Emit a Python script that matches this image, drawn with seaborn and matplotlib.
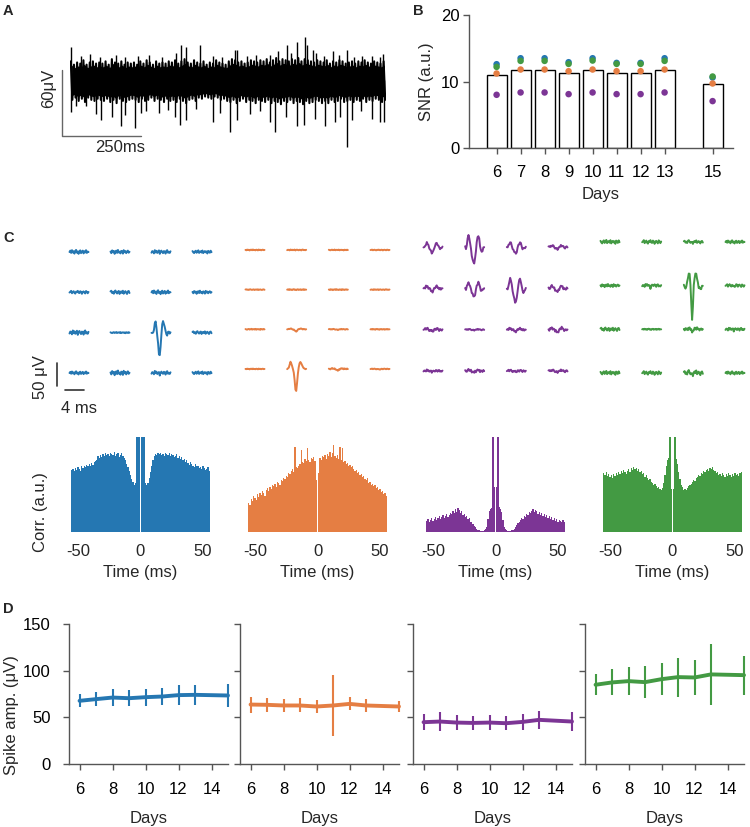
import numpy as np
import pandas as pd
import matplotlib
matplotlib.use("Agg")
import matplotlib.pyplot as plt
import seaborn as sns

# ====================== DATA ======================
unit_names = ["unit1", "unit2", "unit3", "unit4"]
unit_colors = ["#2577b2", "#e57e43", "#7c3595", "#439a43"]

# ---- Panel A: raw trace (µV), envelope every 10 ms over 1 s, plus large spikes
trace_upper = [17, 14, 16, 15, 18, 14, 16, 17, 15, 16,
               15, 17, 14, 19, 16, 15, 17, 14, 16, 15,
               16, 14, 17, 15, 18, 16, 14, 17, 15, 16,
               15, 17, 16, 18, 15, 17, 19, 16, 15, 18,
               16, 15, 17, 14, 16, 15, 18, 16, 15, 14,
               17, 19, 18, 16, 17, 15, 16, 18, 17, 16,
               18, 17, 19, 16, 18, 20, 17, 19, 18, 17,
               19, 18, 20, 17, 19, 18, 17, 16, 18, 17,
               16, 18, 15, 17, 16, 18, 17, 15, 16, 17,
               15, 17, 16, 18, 16, 15, 17, 16, 15, 17]
trace_lower = [-18, -16, -19, -17, -20, -16, -18, -19, -17, -18,
               -19, -17, -20, -18, -21, -17, -19, -20, -18, -17,
               -18, -20, -17, -19, -18, -16, -19, -17, -18, -20,
               -17, -19, -18, -20, -17, -19, -21, -18, -17, -19,
               -16, -17, -15, -16, -17, -15, -16, -18, -17, -19,
               -20, -18, -21, -19, -17, -20, -18, -19, -21, -18,
               -19, -20, -18, -21, -19, -20, -22, -19, -20, -18,
               -21, -19, -20, -22, -19, -21, -20, -18, -19, -21,
               -19, -21, -18, -20, -19, -17, -20, -19, -18, -20,
               -18, -19, -17, -20, -18, -19, -17, -18, -20, -18]
spike_up_t = [4, 35, 62, 95, 147, 175, 215, 249, 290, 337, 352, 366, 410, 452, 480,
              521, 527, 560, 590, 632, 657, 688, 700, 717, 743, 751, 770, 777, 805,
              833, 850, 877, 900, 923, 955, 981, 991]
spike_up_v = [30, 22, 24, 21, 23, 21, 22, 23, 21, 24.5, 32, 30, 32, 22, 21,
              27, 27, 22, 23, 23, 26, 32, 25, 35, 39, 32, 27, 25, 22,
              26, 23, 27, 21, 22, 22, 21, 24]
spike_dn_t = [3, 20, 51, 83, 98, 133, 160, 175, 207, 225, 242, 283, 310, 331, 347, 366,
              400, 452, 474, 505, 530, 569, 600, 632, 648, 685, 717, 740, 775, 807, 838,
              854, 875, 891, 920, 955, 981, 994]
spike_dn_v = [-29, -24, -24, -31, -36, -34, -42, -32, -44, -30, -28, -30, -27, -34, -41, -36,
              -26, -38, -30, -47, -36, -31, -28, -38, -47, -34, -42, -41, -35, -42, -38,
              -34, -61, -36, -28, -35, -38, -38]

# ---- Panel B: SNR per day
snr_days = [6, 7, 8, 9, 10, 11, 12, 13, 15]
snr_bar = [10.95, 11.7, 11.7, 11.35, 11.7, 11.35, 11.35, 11.7, 9.55]
snr_unit1 = [12.6, 13.5, 13.5, 12.9, 13.5, 12.8, 12.8, 13.5, 10.6]
snr_unit2 = [11.2, 11.8, 11.8, 11.55, 11.8, 11.55, 11.55, 11.8, 9.7]
snr_unit3 = [8.0, 8.35, 8.35, 8.1, 8.35, 8.1, 8.1, 8.35, 7.05]
snr_unit4 = [12.2, 13.1, 13.1, 12.65, 13.15, 12.65, 12.65, 13.1, 10.75]

# ---- Panel C: spike templates (µV, 24 samples over 4 ms)
wave_t = [-2.0, -1.83, -1.65, -1.48, -1.3, -1.13, -0.96, -0.78, -0.61, -0.43, -0.26, -0.09,
          0.09, 0.26, 0.43, 0.61, 0.78, 0.96, 1.13, 1.3, 1.48, 1.65, 1.83, 2.0]
template_unit1 = [0, -2, -3, 8, 20, 22, 12, -5, -25, -48, -52, -30, -2, 16, 24, 22, 12, 2, -3, -4, -1, 1, 0, 0]
template_unit2 = [0, 1, 3, 10, 15, 12, 6, 0, -8, -25, -44, -48, -30, -10, 4, 12, 15, 13, 8, 4, 2, 1, 0, 0]
template_unit3 = [0, -4, 6, 18, 24, 20, 8, -6, -18, -28, -34, -35, -26, -8, 10, 20, 24, 18, 4, -8, -11, -8, -3, 0]
template_unit4 = [0, -2, -4, -3, 6, 18, 26, 22, 4, -40, -76, -45, -2, 18, 26, 24, 16, 6, -2, -6, -8, -6, -3, 0]
# background wiggles (relative units)
noise_a = [0, .6, -.4, .8, -.2, .3, -.7, .5, .9, -.3, .2, -.8, .4, .7, -.5, .1, .6, -.6, .3, -.2, .8, -.4, .2, 0]
noise_b = [.2, -.5, .7, -.1, .4, -.8, .3, .6, -.4, .9, -.2, .1, -.6, .5, .3, -.7, .8, -.1, .4, -.5, .2, .6, -.3, .1]
noise_c = [-.3, .4, .1, -.6, .8, -.2, .5, -.4, .2, .7, -.8, .3, .6, -.1, -.5, .4, .2, -.7, .5, .8, -.3, .1, -.4, .3]
noise_d = [.5, -.2, -.6, .3, .7, -.4, .1, .9, -.5, .2, .4, -.3, .8, -.6, .1, .5, -.2, .3, -.8, .6, .2, -.4, .7, -.1]
noise_e = [-.1, .3, .8, -.5, .2, .6, -.3, -.7, .4, .1, .8, -.2, -.4, .6, .3, -.8, .2, .5, -.1, -.6, .7, .3, -.5, .2]
noise_f = [.4, .7, -.3, .2, -.6, .5, .8, -.1, -.5, .3, .6, -.7, .2, .4, -.3, .7, -.6, .1, .5, -.2, -.7, .4, .6, -.3]
# per-channel (4x4 grid) spike weight and noise amplitude (µV)
weight_unit1 = [[0, 0, 0, 0], [0, 0, 0, 0], [0, 0, 1.0, 0], [0, 0, 0.03, 0]]
weight_unit2 = [[0, 0, 0, 0], [0, 0, 0, 0], [0, 0.1, 0.02, 0], [0, 1.0, 0.07, 0.02]]
weight_unit3 = [[0.35, 1.0, 0.4, 0.12], [0.18, 0.5, 0.85, 0.2], [0.1, 0.03, 0.1, 0.15], [0.04, 0.08, 0.05, 0.06]]
weight_unit4 = [[0, 0, 0.03, 0], [0, 0.05, 1.0, 0.04], [0, 0, 0.08, 0.02], [0, 0, 0.06, 0]]
noiseamp_unit1 = [[5, 5, 5, 4], [4, 5, 5, 4], [6, 1.5, 4, 4], [4, 6, 5, 4]]
noiseamp_unit2 = [[1.2, 1.2, 1.0, 1.0], [1.0, 1.2, 1.2, 1.0], [1.2, 1.0, 1.0, 1.0], [1.0, 1.0, 1.5, 1.0]]
noiseamp_unit3 = [[3, 3, 3, 3], [3.5, 3, 3, 3.5], [3.5, 1.5, 3, 3.5], [3, 3.5, 3, 3]]
noiseamp_unit4 = [[5, 5, 4, 4], [4, 4, 4, 4], [5, 1.5, 4, 4], [5, 5, 6, 4]]

# ---- Panel C: autocorrelograms, 1 ms bins, lags -55..55 ms (% of axis height)
acg_lags = list(range(-55, 56))
acg_unit1 = [65, 66, 64, 67, 65, 68, 66, 64, 69, 67,
             70, 68, 71, 69, 72, 70, 73, 71, 74, 75,
             76, 80, 78, 81, 79, 82, 80, 83, 81, 82,
             80, 83, 82, 81, 84, 80, 82, 83, 79, 81,
             83, 80, 78, 76, 72, 68, 64, 60, 56, 53,
             50, 52, 130, 130, 130,
             0,
             130, 130, 130, 52, 50,
             52, 57, 63, 70, 76, 80, 82, 81, 83, 82,
             83, 81, 82, 80, 83, 82, 81, 83, 80, 82,
             81, 79, 80, 82, 78, 80, 77, 79, 76, 77,
             74, 76, 73, 71, 74, 72, 70, 68, 72, 69,
             70, 67, 68, 66, 69, 67, 65, 66, 68, 64]
acg_unit2 = [31, 28, 35, 33, 38, 36, 34, 40, 37, 41,
             39, 43, 41, 38, 44, 46, 43, 47, 45, 49,
             48, 51, 47, 53, 52, 50, 55, 54, 57, 56,
             59, 58, 62, 61, 64, 66, 63, 89, 68, 67,
             70, 72, 86, 74, 73, 77, 75, 88, 76, 74,
             78, 77, 79, 75, 55,
             0,
             62, 78, 76, 80, 79,
             81, 77, 82, 80, 84, 79, 83, 92, 80, 78,
             81, 77, 90, 76, 88, 74, 75, 72, 73, 70,
             71, 68, 69, 66, 64, 65, 62, 63, 60, 61,
             58, 59, 56, 55, 57, 52, 53, 50, 51, 48,
             49, 46, 47, 44, 45, 42, 43, 40, 41, 38]
acg_unit3 = [12, 14, 11, 13, 15, 12, 14, 16, 13, 15,
             17, 14, 16, 18, 15, 17, 19, 16, 18, 20,
             19, 22, 20, 24, 21, 25, 23, 20, 22, 18,
             19, 16, 17, 14, 15, 11, 10, 8, 6, 5,
             3, 2, 2, 1, 1, 1, 2, 3, 5, 14,
             22, 24, 25, 130, 47,
             0,
             47, 130, 26, 24, 21,
             13, 5, 3, 2, 1, 1, 1, 2, 2, 3,
             5, 7, 9, 11, 13, 15, 14, 17, 16, 19,
             18, 21, 20, 22, 24, 21, 23, 22, 19, 21,
             18, 20, 17, 19, 16, 18, 15, 17, 14, 16,
             13, 15, 12, 14, 11, 13, 12, 10, 13, 11]
acg_unit4 = [62, 60, 63, 59, 61, 58, 60, 57, 61, 59,
             62, 60, 63, 61, 64, 62, 65, 63, 61, 64,
             66, 63, 67, 65, 68, 66, 67, 64, 66, 63,
             64, 61, 62, 58, 60, 57, 55, 56, 53, 52,
             50, 51, 48, 46, 47, 45, 44, 46, 52, 60,
             70, 76, 78, 130, 45,
             0,
             45, 130, 77, 72, 63,
             56, 50, 47, 44, 45, 44, 46, 48, 50, 51,
             53, 55, 54, 57, 58, 60, 59, 62, 61, 64,
             63, 65, 66, 64, 67, 66, 68, 65, 64, 62,
             63, 60, 61, 59, 62, 60, 58, 61, 59, 62,
             60, 58, 61, 59, 62, 60, 61, 59, 62, 63]

# ---- Panel D: spike amplitude (µV) per day, mean and error
amp_days = [6, 7, 8, 9, 10, 11, 12, 13, 15]
amp_unit1 = [67.7, 69.5, 71.2, 70.5, 71.6, 72.3, 73.8, 74.1, 73.4]
err_unit1 = [7, 7.5, 9, 8.6, 9, 9.5, 10.5, 11, 12]
amp_unit2 = [63.7, 63.4, 62.7, 62.7, 61.6, 62.7, 64.4, 62.7, 61.6]
err_unit2 = [8.6, 7.7, 7, 7.5, 7, 33, 7, 7, 5.5]
amp_unit3 = [44.8, 45.5, 44.4, 44.0, 44.4, 43.7, 45.1, 47.3, 45.5]
err_unit3 = [8.4, 9.8, 7.7, 7.7, 8.2, 7.2, 9, 10, 9.8]
amp_unit4 = [84.9, 87.4, 88.8, 87.7, 90.9, 93.1, 92.7, 96.0, 95.2]
err_unit4 = [11.3, 14, 15, 16.8, 17.2, 21, 18.4, 33, 21]

# ====================== STYLE ======================
sns.set_theme(style="ticks")
plt.rcParams['font.family'] = ['Liberation Sans', 'DejaVu Sans']
plt.rcParams['font.size'] = 12
plt.rcParams['axes.unicode_minus'] = False
SPINE = "#555555"
FS = 12

W, H = 750, 827
fig = plt.figure(figsize=(W / 100, H / 100), dpi=100)


def px_ax(l, t, r, b):
    return fig.add_axes([l / W, 1 - b / H, (r - l) / W, (b - t) / H])


def px_text(x, y, s, **kw):
    kw.setdefault('fontsize', FS)
    fig.text(x / W, 1 - y / H, s, **kw)


def style_axis(ax):
    sns.despine(ax=ax)
    for sp in ('left', 'bottom'):
        ax.spines[sp].set_color(SPINE)
        ax.spines[sp].set_linewidth(1.0)
    ax.tick_params(colors=SPINE, labelcolor='black', length=4, width=1.0, labelsize=FS)


# panel letters
for letter, (x, y) in zip("ABCD", [(3, 15), (413, 15), (3, 242), (3, 613)]):
    px_text(x, y, letter, fontsize=10.5, fontweight='bold', ha='left', va='baseline')

# ====================== PANEL A ======================
axA = px_ax(70, 30, 386, 150)
axA.set_xlim(0, 1000)
axA.set_ylim(-63.6, 45.5)
axA.axis('off')
tA = np.arange(len(trace_upper)) * 10 + 5
up = np.array(trace_upper, float)
lo = np.array(trace_lower, float)
zx = np.ravel(np.column_stack([tA - 2.5, tA + 2.5]))
zy = np.ravel(np.column_stack([up, lo]))
axA.fill_between(tA, up * 0.8, lo * 0.8, color='black', lw=0)
axA.plot(zx, zy, color='black', lw=1.5)
axA.vlines(spike_up_t, 0, spike_up_v, color='black', lw=1.0)
axA.vlines(spike_dn_t, 0, spike_dn_v, color='black', lw=1.0)
axA.plot([-25.3, -25.3, 224.7], [9.1, -50.9, -50.9], color='#666666', lw=1.0, clip_on=False)
px_text(49, 88, "60μV", rotation=90, ha='center', va='center')
px_text(120, 147, "250ms", ha='center', va='center')

# ====================== PANEL B ======================
axB = px_ax(469, 15, 733, 148)
axB.bar(snr_days, snr_bar, width=0.83, color='white', edgecolor='black', linewidth=1.0, zorder=2)
snr_df = pd.DataFrame({
    'day': snr_days * 4,
    'snr': snr_unit1 + snr_unit2 + snr_unit3 + snr_unit4,
    'unit': sum([[u] * len(snr_days) for u in unit_names], []),
})
order = ["unit1", "unit2", "unit3", "unit4"]
sns.scatterplot(data=snr_df, x='day', y='snr', hue='unit', hue_order=order,
                palette=dict(zip(unit_names, unit_colors)), s=22, edgecolor='none',
                legend=False, ax=axB, zorder=3)
axB.set_xlim(4.85, 15.85)
axB.set_ylim(0, 20)
axB.set_yticks([0, 10, 20])
axB.set_xticks(snr_days)
axB.set_xticklabels([str(d) for d in snr_days])
style_axis(axB)
axB.tick_params(axis='x', pad=8)
axB.tick_params(axis='y', pad=3)
axB.set_xlabel("Days", fontsize=FS, labelpad=5)
axB.set_ylabel("SNR (a.u.)", fontsize=FS, labelpad=5)

# ====================== PANEL C: waveforms ======================
px_per_ms = 4.75
px_per_uv = 23 / 50.0
grid_layout = [  # (col1 x, col4 x, row1 y, row4 y) in pixels
    (79, 202, 252, 373),
    (255, 380, 250, 369),
    (433, 558, 247, 371),
    (610, 735, 242, 373),
]
templates = [template_unit1, template_unit2, template_unit3, template_unit4]
weights = [weight_unit1, weight_unit2, weight_unit3, weight_unit4]
noise_amps = [noiseamp_unit1, noiseamp_unit2, noiseamp_unit3, noiseamp_unit4]
noise_bank = [noise_a, noise_b, noise_c, noise_d, noise_e, noise_f]
wt = np.array(wave_t)
wave_axes = []
for u in range(4):
    c1, c4, r1, r4 = grid_layout[u]
    colsp = (c4 - c1) / 3 / px_per_ms
    rowsp = (r4 - r1) / 3 / px_per_uv
    mx, my = 14, 40
    ax = px_ax(c1 - mx, r1 - my, c4 + mx, r4 + my)
    ax.set_xlim(-mx / px_per_ms, 3 * colsp + mx / px_per_ms)
    ax.set_ylim(-3 * rowsp - my / px_per_uv, my / px_per_uv)
    ax.axis('off')
    tmpl = np.array(templates[u], float)
    for i in range(4):
        for j in range(4):
            nz = np.array(noise_bank[(i * 4 + j + u) % 6], float)
            v = weights[u][i][j] * tmpl + noise_amps[u][i][j] * nz
            ax.plot(wt + j * colsp, v - i * rowsp, color=unit_colors[u], lw=1.4,
                    solid_joinstyle='round')
    wave_axes.append((ax, colsp, rowsp))

# scale bars (on unit-1 axes)
ax, colsp, rowsp = wave_axes[0]
c1, c4, r1, r4 = grid_layout[0]
xv = (57 - c1) / px_per_ms
ytop = -3 * rowsp + (r4 - 363) / px_per_uv
ax.plot([xv, xv], [ytop, ytop - 50], color='#333333', lw=1.2, clip_on=False)
yh = -3 * rowsp + (r4 - 390) / px_per_uv
xh0 = (65 - c1) / px_per_ms
ax.plot([xh0, xh0 + 4], [yh, yh], color='#333333', lw=1.2, clip_on=False)
px_text(40, 377, "50 μV", rotation=90, ha='center', va='center')
px_text(79, 408, "4 ms", ha='center', va='center')

# ====================== PANEL C: autocorrelograms ======================
acgs = [acg_unit1, acg_unit2, acg_unit3, acg_unit4]
hist_lefts = [71, 248, 426, 603]
for u in range(4):
    ax = px_ax(hist_lefts[u], 437, hist_lefts[u] + 139, 532)
    acg_df = pd.DataFrame({'lag': acg_lags, 'count': acgs[u]})
    sns.histplot(data=acg_df, x='lag', weights='count', discrete=True, element='step',
                 fill=True, color=unit_colors[u], alpha=1.0, linewidth=0, ax=ax)
    ax.set_xlim(-55.5, 55.5)
    ax.set_ylim(0, 100)
    sns.despine(ax=ax, left=True, bottom=True)
    ax.set_yticks([])
    ax.set_xticks([-50, 0, 50])
    ax.set_xticklabels(["-50", "0", "50"])
    ax.tick_params(axis='x', length=0, pad=9, labelsize=FS)
    ax.set_ylabel("")
    ax.set_xlabel("Time (ms)", fontsize=FS, labelpad=4)
px_text(40, 512, "Corr. (a.u.)", rotation=90, ha='center', va='center')

# ====================== PANEL D ======================
amps = [amp_unit1, amp_unit2, amp_unit3, amp_unit4]
errs = [err_unit1, err_unit2, err_unit3, err_unit4]
d_lefts = [69, 240, 413, 585]
for u in range(4):
    ax = px_ax(d_lefts[u], 624, d_lefts[u] + 159, 764)
    ax.errorbar(amp_days, amps[u], yerr=errs[u], fmt='none', ecolor=unit_colors[u],
                elinewidth=1.5, capsize=0, clip_on=False, zorder=2)
    sns.lineplot(x=amp_days, y=amps[u], color=unit_colors[u], lw=2.8, ax=ax,
                 clip_on=False, zorder=3)
    ax.set_xlim(5.36, 15.0)
    ax.set_ylim(0, 150)
    ax.set_xticks([6, 8, 10, 12, 14])
    ax.set_yticks([0, 50, 100, 150])
    style_axis(ax)
    ax.tick_params(axis='x', pad=9)
    ax.tick_params(axis='y', pad=9)
    if u > 0:
        ax.set_yticklabels([])
    ax.set_xlabel("Days", fontsize=FS, labelpad=10)
px_text(12, 715, "Spike amp. (μV)", rotation=90, ha='center', va='center')

fig.savefig("out.png", dpi=100)
